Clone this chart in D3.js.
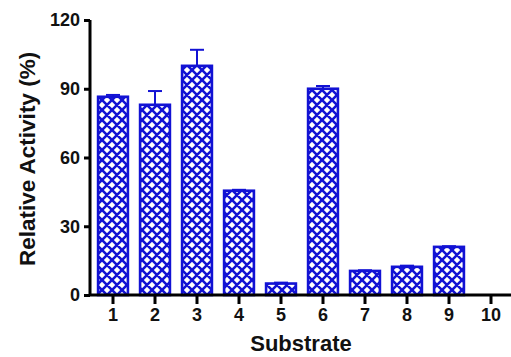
<!DOCTYPE html>
<html><head><meta charset="utf-8">
<script src="https://cdn.jsdelivr.net/npm/d3@7"></script>
<style>body{margin:0;background:#fff}</style>
</head><body>
<svg id="c" width="511" height="357"></svg>
<script>
const categories = ["1","2","3","4","5","6","7","8","9","10"];
const values = [86.5, 83, 100, 45.5, 5, 90, 10.5, 12.3, 21, 0];
const errors = [0.8, 6, 7, 0.4, 0.4, 1.2, 0.3, 0.5, 0.3, 0];
const yTicks = [0, 30, 60, 90, 120];

const svg = d3.select("#c");
const blue = "#1212d4";
const x = d3.scaleBand().domain(categories).range([92, 512]).paddingInner(0.29).paddingOuter(0.145);
const y = d3.scaleLinear().domain([0, 120]).range([295, 20]);

const P = 10;
const defs = svg.append("defs");
const pat = defs.append("pattern").attr("id","hatch").attr("patternUnits","userSpaceOnUse")
  .attr("width", P).attr("height", P).attr("x", 2).attr("y", 0);
pat.append("rect").attr("width", P).attr("height", P).attr("fill", "#fff");
pat.append("path").attr("d",`M0,0L${P},${P}M${P},0L0,${P}M-2,${P-2}L2,${P+2}M${P-2},-2L${P+2},2M-2,2L2,-2M${P-2},${P+2}L${P+2},${P-2}`)
  .attr("stroke", blue).attr("stroke-width", 2.6);

// bars
svg.selectAll("rect.bar").data(values).enter().append("rect").attr("class","bar")
  .attr("x", (d,i) => x(categories[i]))
  .attr("y", d => y(d))
  .attr("width", x.bandwidth())
  .attr("height", d => y(0) - y(d))
  .attr("fill", "url(#hatch)")
  .attr("stroke", blue).attr("stroke-width", 2.6)
  .style("display", d => d > 0 ? null : "none");

// error bars (upper)
const eg = svg.append("g");
values.forEach((v, i) => {
  if (v <= 0) return;
  const cx = x(categories[i]) + x.bandwidth()/2;
  const top = y(v + errors[i]);
  eg.append("line").attr("x1", cx).attr("x2", cx).attr("y1", y(v)).attr("y2", top)
    .attr("stroke", blue).attr("stroke-width", 2);
  eg.append("line").attr("x1", cx - 7).attr("x2", cx + 7).attr("y1", top).attr("y2", top)
    .attr("stroke", blue).attr("stroke-width", 2);
});

// axes
const yAxis = svg.append("g").attr("transform","translate(90,0)")
  .call(d3.axisLeft(y).tickValues(yTicks).tickSize(6).tickPadding(4));
const xAxis = svg.append("g").attr("transform","translate(0,295)")
  .call(d3.axisBottom(x).tickSize(9).tickPadding(4));
[yAxis, xAxis].forEach(a => {
  a.select(".domain").attr("stroke","#000").attr("stroke-width",3);
  a.selectAll(".tick line").attr("stroke","#000").attr("stroke-width",3);
  a.selectAll("text").attr("fill","#111").style("font-family","Liberation Sans, Arial, sans-serif")
    .style("font-weight","bold").style("font-size","18px");
});
yAxis.select(".domain").attr("d","M0,295V20");
yAxis.selectAll(".tick line").attr("x2",-6);
xAxis.select(".domain").attr("d","M90,0H511");

svg.append("text").attr("transform","translate(35,159) rotate(-90)").attr("text-anchor","middle")
  .style("font-family","Liberation Sans, Arial, sans-serif").style("font-weight","bold").style("font-size","22.5px")
  .attr("fill","#111").text("Relative Activity (%)");
svg.append("text").attr("x", 301).attr("y", 351).attr("text-anchor","middle")
  .style("font-family","Liberation Sans, Arial, sans-serif").style("font-weight","bold").style("font-size","22px")
  .attr("fill","#111").text("Substrate");
</script>
</body></html>
